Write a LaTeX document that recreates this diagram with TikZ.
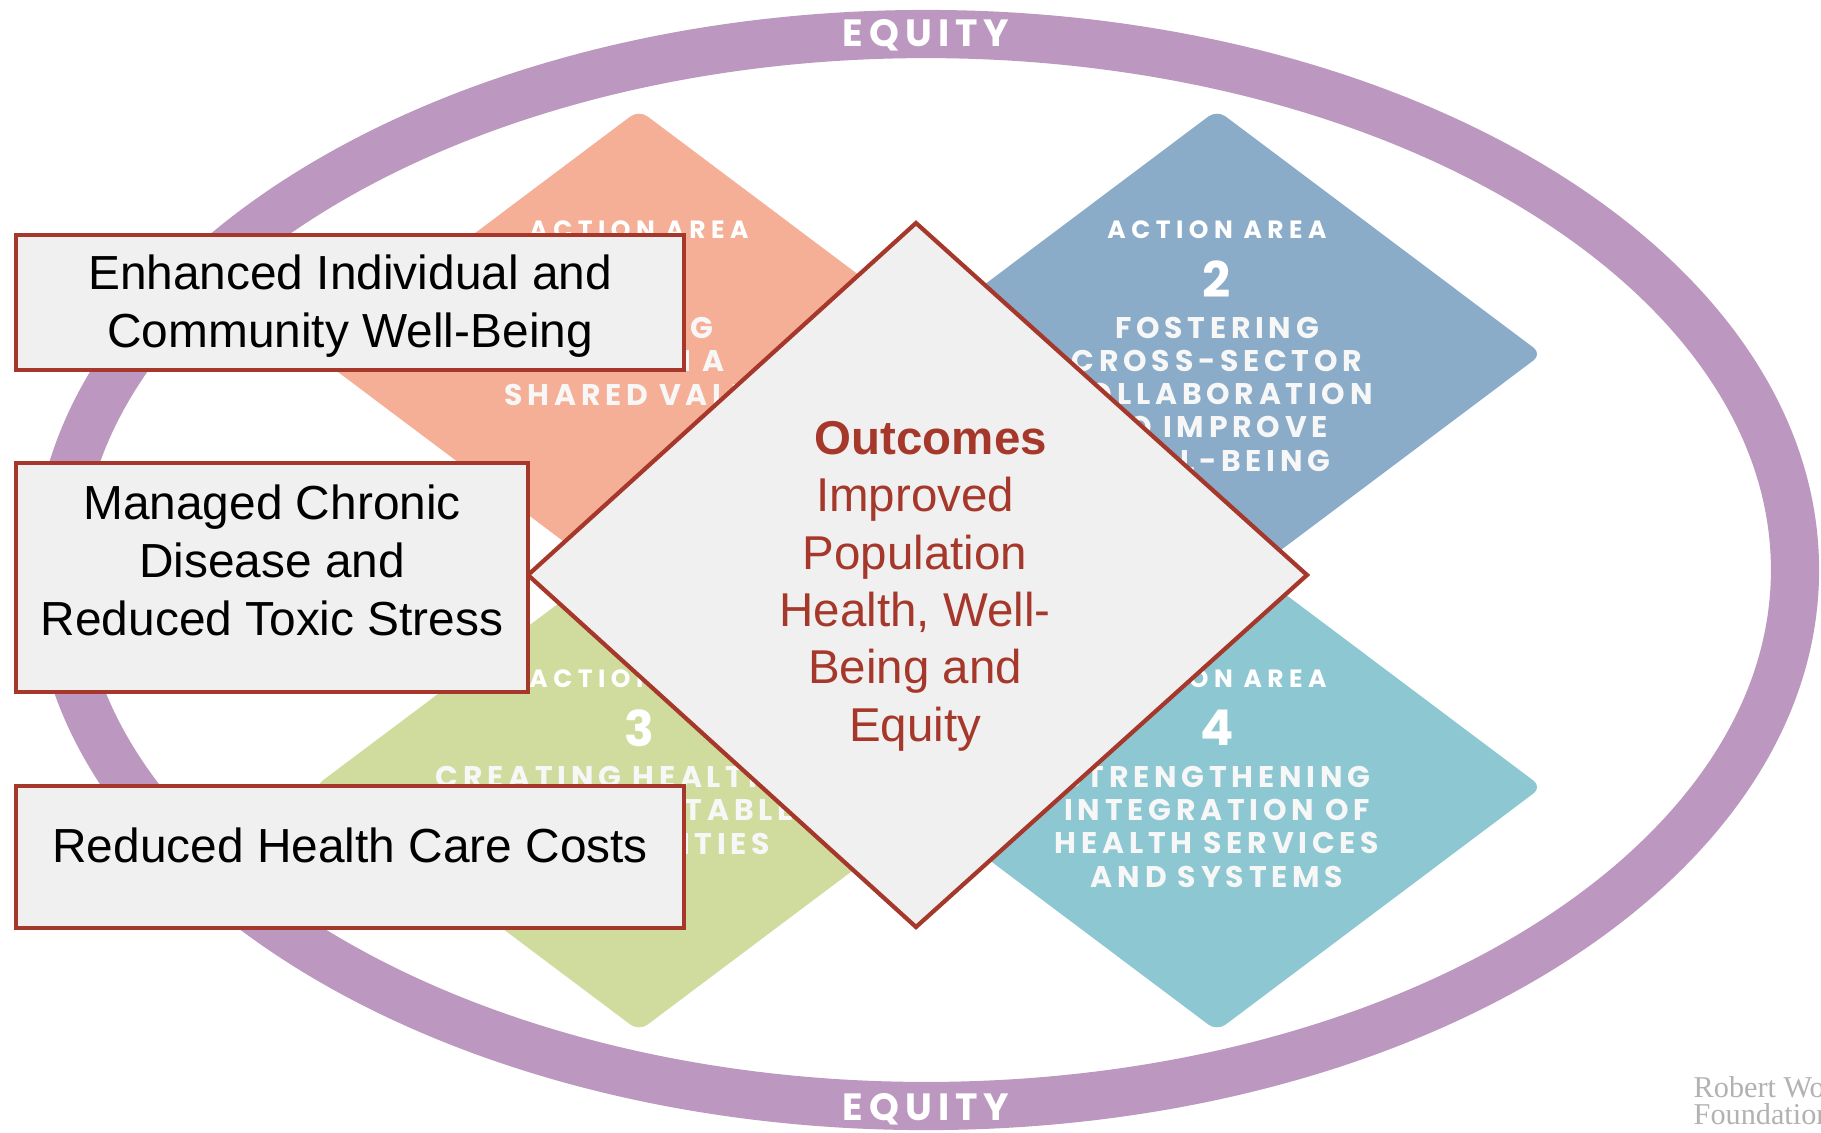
\documentclass[tikz,border=0pt]{standalone}
\usepackage{fontspec}
\setmainfont{Liberation Sans}
\newfontfamily\areafont[LetterSpace=22]{Poppins}
\newfontfamily\areabold[LetterSpace=16]{Poppins}
\newfontfamily\logofont{Liberation Serif}
\definecolor{ringpurple}{RGB}{188,152,192}
\definecolor{areasalmon}{RGB}{245,175,150}
\definecolor{areasteel}{RGB}{138,172,200}
\definecolor{areaolive}{RGB}{208,220,158}
\definecolor{areateal}{RGB}{141,200,210}
\definecolor{brick}{RGB}{165,56,42}
\definecolor{paper}{RGB}{240,240,240}
\tikzset{
  areatitle/.style={text=white,font=\areafont\bfseries\fontsize{7.1}{9}\selectfont},
  areanum/.style={text=white,font=\areafont\bfseries\fontsize{14}{16}\selectfont},
  areabody/.style={text=white!94!gray,align=center,anchor=base,font=\areabold\bfseries\fontsize{8.5}{9.4}\selectfont},
  equity/.style={text=white,font=\areabold\bfseries\fontsize{10.8}{12}\selectfont},
  outbox/.style={draw=brick,line width=1.1pt,fill=paper,anchor=north west,inner sep=0pt},
  outtext/.style={text=black,align=center,font=\fontsize{13.6}{16.5}\selectfont}
}
\begin{document}
\begin{tikzpicture}[x=0.01cm,y=-0.01cm]
  \clip (0,0) rectangle (1821,1132);
  \fill[white] (0,0) rectangle (1821,1132);
  % equity ring
  \draw[ringpurple,line width=13.7pt] (926,570) ellipse [x radius=869,y radius=536];
  \node[equity] (eqtop) at (926,35) {EQUITY};
  \node[equity] (eqbot) at (926,1109) {EQUITY};
  % action areas
  \foreach \cx/\cy/\col in {639/354/areasalmon,1217/354/areasteel,639/787/areaolive,1217/787/areateal}
    \fill[\col,rounded corners=3pt] (\cx,\cy-244) -- (\cx+325,\cy) -- (\cx,\cy+244) -- (\cx-325,\cy) -- cycle;
  \foreach \cx/\ty/\by/\n/\body in {639/230/405/1/{MAKING\\HEALTH A\\SHARED VALUE},
      1217/230/471/2/{FOSTERING\\CROSS-SECTOR\\COLLABORATION\\TO IMPROVE\\WELL-BEING},
      639/679/854/3/{CREATING HEALTHIER,\\MORE EQUITABLE\\COMMUNITIES},
      1217/679/887/4/{STRENGTHENING\\INTEGRATION OF\\HEALTH SERVICES\\AND SYSTEMS}}{
    \node[areatitle] (title\n) at (\cx,\ty) {ACTION AREA};
    \node[areanum] (num\n) at (\cx,\ty+49) {\n};
    \node[areabody] (body\n) at (\cx,\by) {\body};
  }
  % outcomes
  \draw[brick,line width=1.2pt,fill=paper] (916,223) -- (1307,575) -- (916,927) -- (528,575) -- cycle;
  \node[text=brick,align=center,anchor=base,font=\fontsize{13.5}{16.3}\selectfont] (outcomes) at (915,741)
    {\hspace*{9pt}\textbf{Outcomes}\\Improved\\Population\\Health, Well-\\Being and\\Equity};
  % results
  \node[outbox,minimum width=6.68cm,minimum height=1.35cm] (wellbox) at (14,233) {};
  \node[outtext] (welltext) at ([yshift=-0.04cm]wellbox.center) {Enhanced Individual and\\Community Well-Being};
  \node[outbox,minimum width=5.12cm,minimum height=2.29cm] (stressbox) at (14,461) {};
  \node[outtext] (stresstext) at ([yshift=0.175cm]stressbox.center) {Managed Chronic\\Disease and\\Reduced Toxic Stress};
  \node[outbox,minimum width=6.68cm,minimum height=1.42cm] (costbox) at (14,784) {};
  \node[outtext] (costtext) at ([yshift=0.12cm]costbox.center) {Reduced Health Care Costs};
  % logo
  \node[anchor=base west,align=left,inner sep=0pt,text=gray!60,font=\logofont\fontsize{8.6}{7.6}\selectfont] (rwjf) at (1693,1124) {Robert Wood Johnson\\Foundation};
\end{tikzpicture}
\end{document}
